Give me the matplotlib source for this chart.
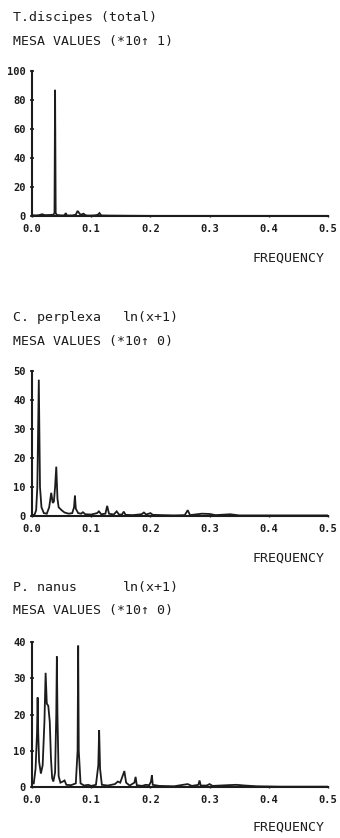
import matplotlib
matplotlib.use("Agg")
import matplotlib.pyplot as plt

# --------------------------------------------------------------------------
# Data (frequency, value)
# --------------------------------------------------------------------------

tdis_freq = [0.000, 0.006, 0.012, 0.017, 0.022, 0.030, 0.036, 0.038, 0.039,
             0.040, 0.042, 0.050, 0.055, 0.057, 0.059, 0.068, 0.074, 0.077,
             0.079, 0.082, 0.087, 0.090, 0.094, 0.105, 0.111, 0.114, 0.117,
             0.130, 0.160, 0.200, 0.300, 0.400, 0.500]
tdis_vals = [0.6, 0.4, 0.6, 1.2, 0.6, 0.7, 0.9, 2.0, 87.0,
             2.0, 0.7, 0.4, 0.5, 2.0, 0.4, 0.4, 0.9, 3.5,
             2.4, 0.8, 1.6, 0.6, 0.3, 0.4, 0.8, 2.0, 0.4,
             0.3, 0.2, 0.1, 0.1, 0.1, 0.1]

cper_freq = [0.000, 0.004, 0.007, 0.009, 0.0115, 0.0135, 0.016, 0.020, 0.025,
             0.029, 0.0325, 0.035, 0.037, 0.039, 0.041, 0.043, 0.045, 0.050,
             0.055, 0.062, 0.068, 0.071, 0.0725, 0.074, 0.078, 0.083, 0.086,
             0.090, 0.100, 0.110, 0.113, 0.117, 0.124, 0.127, 0.130, 0.138,
             0.143, 0.147, 0.152, 0.155, 0.158, 0.170, 0.185, 0.189, 0.193,
             0.200, 0.204, 0.220, 0.240, 0.258, 0.263, 0.267, 0.287, 0.300,
             0.310, 0.335, 0.350, 0.400, 0.450, 0.500]
cper_vals = [0.5, 0.3, 2.0, 10.0, 47.0, 10.0, 3.0, 1.0, 0.8,
             3.0, 8.0, 4.5, 5.0, 10.0, 17.0, 6.0, 3.0, 2.0,
             1.2, 0.8, 1.0, 3.0, 7.0, 2.5, 1.0, 0.8, 1.3,
             0.6, 0.5, 1.0, 1.6, 0.6, 0.8, 3.5, 0.8, 0.5,
             1.6, 0.5, 0.5, 1.5, 0.4, 0.3, 0.6, 1.2, 0.5,
             1.0, 0.4, 0.3, 0.2, 0.3, 2.0, 0.3, 0.8, 0.7,
             0.3, 0.6, 0.2, 0.2, 0.2, 0.2]

pnan_freq = [0.000, 0.003, 0.006, 0.0085, 0.0095, 0.0105, 0.012, 0.015, 0.018,
             0.021, 0.023, 0.025, 0.0275, 0.030, 0.032, 0.034, 0.036, 0.039,
             0.041, 0.042, 0.043, 0.045, 0.048, 0.052, 0.055, 0.058, 0.066,
             0.074, 0.077, 0.078, 0.079, 0.082, 0.088, 0.095, 0.100, 0.108,
             0.112, 0.1134, 0.115, 0.118, 0.128, 0.140, 0.145, 0.149, 0.153,
             0.156, 0.159, 0.165, 0.173, 0.175, 0.177, 0.186, 0.192, 0.198,
             0.201, 0.2025, 0.204, 0.215, 0.240, 0.255, 0.263, 0.270, 0.281,
             0.283, 0.285, 0.295, 0.300, 0.305, 0.330, 0.345, 0.360, 0.380,
             0.420, 0.500]
pnan_vals = [1.0, 1.0, 5.0, 15.0, 24.7, 15.0, 7.0, 3.7, 6.0,
             18.0, 31.5, 23.0, 22.4, 18.0, 8.0, 2.5, 1.5, 4.0,
             20.0, 36.0, 20.0, 3.0, 1.2, 1.5, 1.8, 0.6, 0.5,
             1.0, 10.0, 39.0, 10.0, 1.0, 0.4, 0.6, 0.3, 0.6,
             6.0, 15.7, 5.0, 0.6, 0.4, 0.8, 1.5, 1.2, 3.0,
             4.4, 1.2, 0.4, 1.2, 2.8, 0.5, 0.3, 0.6, 0.5,
             1.5, 3.2, 0.6, 0.3, 0.2, 0.6, 0.8, 0.3, 0.6,
             1.8, 0.4, 0.4, 0.8, 0.3, 0.5, 0.6, 0.4, 0.2,
             0.1, 0.1]

x_ticks = [0.0, 0.1, 0.2, 0.3, 0.4, 0.5]

panels = [
    # (freq, vals, y ticks, species, transform, scale text, layout px)
    (tdis_freq, tdis_vals, [0, 20, 40, 60, 80, 100], "T.discipes (total)", "",
     "MESA VALUES (*10\u2191 1)", dict(top=71, bottom=216, t1=18, t2=41, fq=258)),
    (cper_freq, cper_vals, [0, 10, 20, 30, 40, 50], "C. perplexa", "ln(x+1)",
     "MESA VALUES (*10\u2191 0)", dict(top=371, bottom=516, t1=318, t2=341, fq=558)),
    (pnan_freq, pnan_vals, [0, 10, 20, 30, 40], "P. nanus", "ln(x+1)",
     "MESA VALUES (*10\u2191 0)", dict(top=642, bottom=787, t1=587, t2=610, fq=827)),
]

INK = "#1c1c1c"
W, H = 340, 838
MONO = "DejaVu Sans Mono"

fig = plt.figure(figsize=(W / 100, H / 100), dpi=100)
fig.patch.set_facecolor("white")

for freq, vals, yticks, species, transform, scale_txt, px in panels:
    left, right = 32, 328
    ax = fig.add_axes([left / W, 1 - px["bottom"] / H,
                       (right - left) / W, (px["bottom"] - px["top"]) / H])
    ax.plot(freq, vals, color=INK, linewidth=1.3, solid_joinstyle="miter")

    ax.set_xlim(0, 0.5)
    ax.set_ylim(0, yticks[-1])
    ax.set_xticks(x_ticks)
    ax.set_xticklabels([f"{t:.1f}" for t in x_ticks])
    ax.set_yticks(yticks)
    ax.set_yticklabels([str(t) for t in yticks])

    for side in ("top", "right"):
        ax.spines[side].set_visible(False)
    for side in ("left", "bottom"):
        ax.spines[side].set_color(INK)
        ax.spines[side].set_linewidth(1.5)

    ax.tick_params(axis="y", direction="inout", length=3, width=1.2,
                   color=INK, pad=3, labelsize=7.5, labelcolor=INK)
    ax.tick_params(axis="x", direction="inout", length=2, width=1.0,
                   color=INK, pad=5, labelsize=7.5, labelcolor=INK)
    for lbl in ax.get_xticklabels() + ax.get_yticklabels():
        lbl.set_fontfamily(MONO)
        lbl.set_fontweight("bold")

    # headings and axis caption are placed in pixel coordinates
    fig.text(13 / W, 1 - px["t1"] / H, species, family=MONO, fontsize=9.5,
             color=INK, va="center", ha="left")
    if transform:
        fig.text(123 / W, 1 - px["t1"] / H, transform, family=MONO,
                 fontsize=9.5, color=INK, va="center", ha="left")
    fig.text(13 / W, 1 - px["t2"] / H, scale_txt, family=MONO, fontsize=9.5,
             color=INK, va="center", ha="left")
    fig.text(325 / W, 1 - px["fq"] / H, "FREQUENCY", family=MONO, fontsize=9.5,
             color=INK, va="center", ha="right")

fig.savefig("out.png", dpi=100, facecolor="white")
